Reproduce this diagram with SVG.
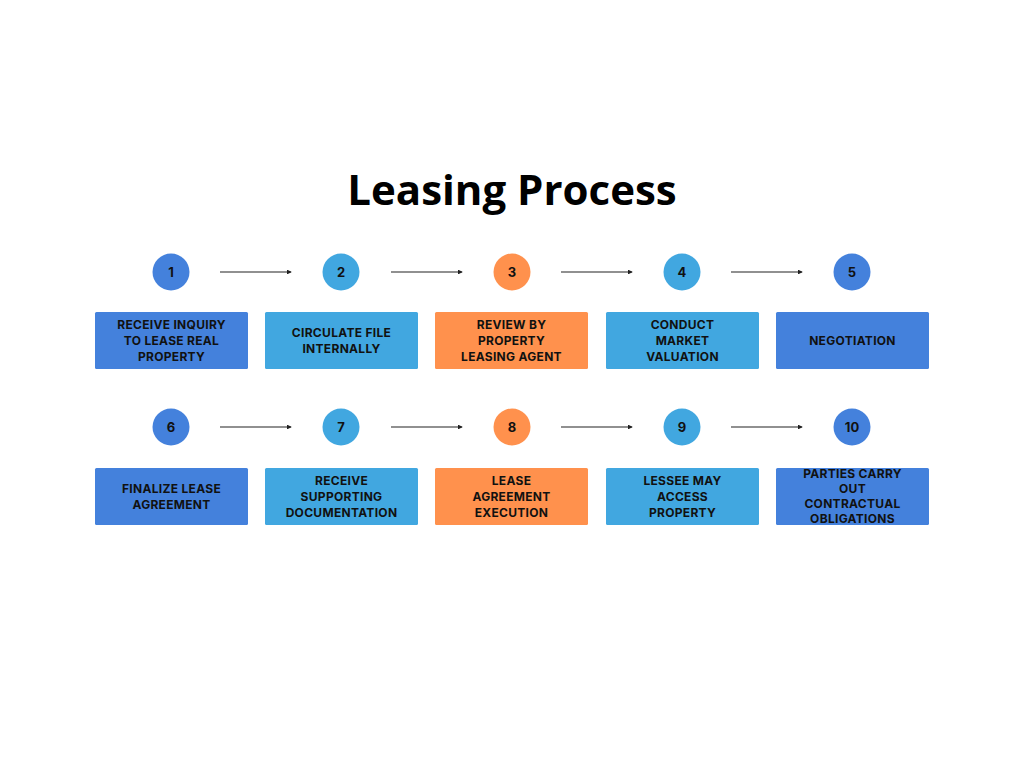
<svg xmlns="http://www.w3.org/2000/svg" width="1024" height="768" viewBox="0 0 1024 768">
<style>
.db{fill:#4481dc}.lb{fill:#41a7e0}.or{fill:#ff914d}
.t{font-family:Inter,"Liberation Sans",sans-serif;font-weight:700;font-size:12px;fill:#111;text-anchor:middle;dominant-baseline:central;letter-spacing:0.3px}
.n{font-family:Inter,"Liberation Sans",sans-serif;font-weight:700;font-size:13px;fill:#111;text-anchor:middle;dominant-baseline:central}
.title{font-family:"Open Sans",Inter,"Liberation Sans",sans-serif;font-weight:700;font-size:42px;fill:#000;text-anchor:middle}
.c{stroke:#222;stroke-width:1.2;fill:none}
</style>
<defs>
<marker id="ah" viewBox="0 0 6 6" refX="5" refY="3" markerWidth="4" markerHeight="4" orient="auto" markerUnits="strokeWidth"><path d="M0,0 L6,3 L0,6 z" fill="#222"/></marker>
</defs>
<rect width="1024" height="768" fill="#fff"/>
<text class="title" x="512" y="205">Leasing Process</text>
<g id="connectors">
<line class="c" x1="220" y1="272" x2="291" y2="272" marker-end="url(#ah)"/>
<line class="c" x1="391" y1="272" x2="462" y2="272" marker-end="url(#ah)"/>
<line class="c" x1="561" y1="272" x2="632" y2="272" marker-end="url(#ah)"/>
<line class="c" x1="731" y1="272" x2="802" y2="272" marker-end="url(#ah)"/>
<line class="c" x1="220" y1="427" x2="291" y2="427" marker-end="url(#ah)"/>
<line class="c" x1="391" y1="427" x2="462" y2="427" marker-end="url(#ah)"/>
<line class="c" x1="561" y1="427" x2="632" y2="427" marker-end="url(#ah)"/>
<line class="c" x1="731" y1="427" x2="802" y2="427" marker-end="url(#ah)"/>
</g>
<g id="step1">
<circle class="db" cx="171" cy="272" r="18.5"/><text class="n" x="171" y="272">1</text>
<rect class="db" x="95" y="312" width="153" height="57" rx="1.5"/>
<text class="t" x="171.5" y="324">RECEIVE INQUIRY</text><text class="t" x="171.5" y="340">TO LEASE REAL</text><text class="t" x="171.5" y="356">PROPERTY</text>
</g>
<g id="step2">
<circle class="lb" cx="341" cy="272" r="18.5"/><text class="n" x="341" y="272">2</text>
<rect class="lb" x="265" y="312" width="153" height="57" rx="1.5"/>
<text class="t" x="341.5" y="332">CIRCULATE FILE</text><text class="t" x="341.5" y="348">INTERNALLY</text>
</g>
<g id="step3">
<circle class="or" cx="512" cy="272" r="18.5"/><text class="n" x="512" y="272">3</text>
<rect class="or" x="435" y="312" width="153" height="57" rx="1.5"/>
<text class="t" x="511.5" y="324">REVIEW BY</text><text class="t" x="511.5" y="340">PROPERTY</text><text class="t" x="511.5" y="356">LEASING AGENT</text>
</g>
<g id="step4">
<circle class="lb" cx="682" cy="272" r="18.5"/><text class="n" x="682" y="272">4</text>
<rect class="lb" x="606" y="312" width="153" height="57" rx="1.5"/>
<text class="t" x="682.5" y="324">CONDUCT</text><text class="t" x="682.5" y="340">MARKET</text><text class="t" x="682.5" y="356">VALUATION</text>
</g>
<g id="step5">
<circle class="db" cx="852" cy="272" r="18.5"/><text class="n" x="852" y="272">5</text>
<rect class="db" x="776" y="312" width="153" height="57" rx="1.5"/>
<text class="t" x="852.5" y="340">NEGOTIATION</text>
</g>
<g id="step6">
<circle class="db" cx="171" cy="427" r="18.5"/><text class="n" x="171" y="427">6</text>
<rect class="db" x="95" y="468" width="153" height="57" rx="1.5"/>
<text class="t" x="171.5" y="488">FINALIZE LEASE</text><text class="t" x="171.5" y="504">AGREEMENT</text>
</g>
<g id="step7">
<circle class="lb" cx="341" cy="427" r="18.5"/><text class="n" x="341" y="427">7</text>
<rect class="lb" x="265" y="468" width="153" height="57" rx="1.5"/>
<text class="t" x="341.5" y="480">RECEIVE</text><text class="t" x="341.5" y="496">SUPPORTING</text><text class="t" x="341.5" y="512">DOCUMENTATION</text>
</g>
<g id="step8">
<circle class="or" cx="512" cy="427" r="18.5"/><text class="n" x="512" y="427">8</text>
<rect class="or" x="435" y="468" width="153" height="57" rx="1.5"/>
<text class="t" x="511.5" y="480">LEASE</text><text class="t" x="511.5" y="496">AGREEMENT</text><text class="t" x="511.5" y="512">EXECUTION</text>
</g>
<g id="step9">
<circle class="lb" cx="682" cy="427" r="18.5"/><text class="n" x="682" y="427">9</text>
<rect class="lb" x="606" y="468" width="153" height="57" rx="1.5"/>
<text class="t" x="682.5" y="480">LESSEE MAY</text><text class="t" x="682.5" y="496">ACCESS</text><text class="t" x="682.5" y="512">PROPERTY</text>
</g>
<g id="step10">
<circle class="db" cx="852" cy="427" r="18.5"/><text class="n" x="852" y="427">10</text>
<rect class="db" x="776" y="468" width="153" height="57" rx="1.5"/>
<text class="t" x="852.5" y="473">PARTIES CARRY</text><text class="t" x="852.5" y="488">OUT</text><text class="t" x="852.5" y="503">CONTRACTUAL</text><text class="t" x="852.5" y="518">OBLIGATIONS</text>
</g>
</svg>
